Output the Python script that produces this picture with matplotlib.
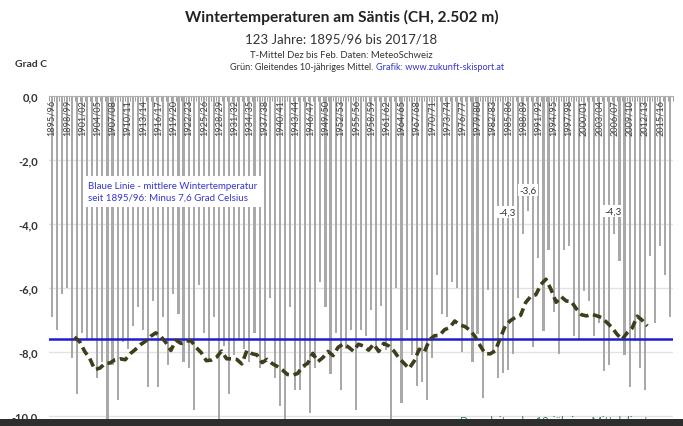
import numpy as np
import pandas as pd
import matplotlib
matplotlib.use('Agg')
import matplotlib.pyplot as plt
from matplotlib.patches import Rectangle

plt.rcParams['font.family'] = ['Lato', 'DejaVu Sans']

# Winter 1895/96 ... 2017/18 (Dez-Feb Mittel, Säntis)
years = np.arange(1895, 2018)
seasons = [f'{y}/{(y + 1) % 100:02d}' for y in years]

temp = [
    -6.9, -7.3, -6.2, -6.0, -8.2, -9.3, -7.4, -7.6, -7.6, -8.8,
    -8.3, -10.4, -8.4, -9.5, -7.7, -7.9, -7.2, -6.6, -7.3, -9.1,
    -6.4, -9.1, -6.9, -8.4, -6.2, -6.8, -8.3, -8.5, -9.8, -5.9,
    -7.4, -8.3, -6.9, -10.5, -7.8, -9.3, -8.1, -7.6, -7.9, -8.3,
    -7.4, -8.5, -8.3, -6.3, -8.8, -9.7, -10.5, -6.6, -9.2, -9.2,
    -8.5, -9.9, -8.5, -5.8, -6.6, -8.7, -7.4, -9.2, -7.9, -7.3,
    -9.8, -7.3, -7.5, -6.7, -7.9, -6.55, -7.95, -10.5, -6.0, -9.6,
    -7.3, -8.1, -9.05, -8.95, -9.5, -8.2, -5.6, -6.8, -6.9, -5.8,
    -6.0, -8.0, -7.25, -8.3, -7.45, -9.45, -6.05, -8.0, -8.8, -8.65,
    -8.55, -8.05, -6.3, -4.3, -3.6, -7.85, -5.05, -7.35, -4.8, -6.75,
    -8.05, -4.8, -4.7, -7.5, -7.6, -6.1, -6.4, -7.5, -7.1, -8.6,
    -8.4, -4.3, -5.15, -8.1, -9.1, -7.65, -8.5, -9.2, -5.0, -7.1,
    -4.7, -5.6, -6.9,
]
mean_all = -7.6
labelled = [93, 94, 111]          # Winter mit Werte-Label
label_shift = [(-3.2, 0.67), (0.0, 0.66), (-0.3, 0.70)]

temp = np.array(temp)
idx = np.arange(len(temp))
# gleitendes 10-jähriges Mittel, zentriert zwischen den Jahren
ma = pd.Series(temp).rolling(10).mean()
ma_x = idx - 4.5

fig = plt.figure(figsize=(6.83, 4.27), dpi=100)
ax = fig.add_axes([49.2 / 683, 0, 623.5 / 683, 330 / 427])

ax.bar(idx, temp, width=0.42, color='#a9a9a9', zorder=2)
ax.axhline(mean_all, color='#1c1cd8', lw=1.8, zorder=3)
ax.plot(ma_x, ma, color='#3e3e1c', lw=2.6, dashes=(2.4, 1.3), zorder=4)

ax.set_xlim(-0.5, len(temp) - 0.5)
ax.set_ylim(-10.31, 0)
ax.set_yticks(np.arange(0, -10.1, -2))
ax.set_yticklabels([f'{v:.1f}'.replace('.', ',') for v in np.arange(0, -10.1, -2)],
                   fontsize=8, fontweight='bold', color='#333333')
ax.tick_params(axis='y', length=0, pad=8)
ax.yaxis.grid(True, color='#e2e2e2', lw=1, zorder=0)
ax.set_axisbelow(True)

ax.xaxis.set_ticks_position('top')
ax.set_xticks([])
ax.set_xticks(np.arange(-0.5, len(temp), 1), minor=True)
ax.tick_params(axis='x', which='minor', direction='in', length=3.5,
               color='#9a9a9a', width=0.7)
for s in ['left', 'right', 'bottom']:
    ax.spines[s].set_visible(False)
ax.spines['top'].set_color('#b0b0b0')
ax.spines['top'].set_linewidth(0.8)

for i in range(0, len(temp), 3):
    ax.text(i, -0.1, seasons[i], rotation=90, ha='center', va='top',
            fontsize=6.6, color='#404040', zorder=5)

for i, (dx, dy) in zip(labelled, label_shift):
    ax.text(i + dx, temp[i] + dy, f'{temp[i]:.1f}'.replace('.', ','),
            ha='center', va='center', fontsize=7, color='#333333', zorder=6,
            bbox=dict(facecolor='white', edgecolor='none', pad=1.2))

ax.text(7.2, -2.98, 'Blaue Linie - mittlere Wintertemperatur\nseit 1895/96: Minus 7,6 Grad Celsius',
        ha='left', va='center', fontsize=7, color='#3535cf', linespacing=1.45, zorder=6,
        bbox=dict(facecolor='white', edgecolor='none', pad=3.5))

fig.text(0.5, 1 - 17 / 427, 'Wintertemperaturen am Säntis (CH, 2.502 m)',
         ha='center', va='center', fontsize=11.2, fontweight='bold', color='#222222')
fig.text(0.5, 1 - 40 / 427, '123 Jahre: 1895/96 bis 2017/18',
         ha='center', va='center', fontsize=9.5, color='#333333')
fig.text(0.5, 1 - 55 / 427, 'T-Mittel Dez bis Feb. Daten: MeteoSchweiz',
         ha='center', va='center', fontsize=6.8, color='#333333')
fig.text(373 / 683, 1 - 68 / 427, 'Grün: Gleitendes 10-jähriges Mittel.',
         ha='right', va='center', fontsize=6.6, color='#333333')
fig.text(376 / 683, 1 - 68 / 427, 'Grafik: www.zukunft-skisport.at',
         ha='left', va='center', fontsize=6.6, color='#3535cf')
fig.text(15 / 683, 1 - 65 / 427, 'Grad C', ha='left', va='center',
         fontsize=7.5, fontweight='bold', color='#333333')

fig.text(460 / 683, 2 / 427, 'Das  gleitende  10-jährige  Mittel  liegt',
         ha='left', va='baseline', fontsize=8, color='#2f7d57')
fig.patches.append(Rectangle((0, 0), 1, 7 / 427, transform=fig.transFigure,
                             facecolor='#2e2e2e', edgecolor='none', zorder=10))

fig.savefig('out.png', dpi=100)
